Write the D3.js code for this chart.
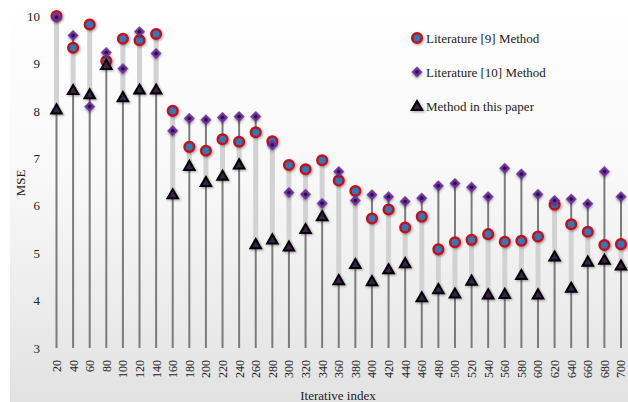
<!DOCTYPE html>
<html>
<head>
<meta charset="utf-8">
<script src="https://cdn.jsdelivr.net/npm/d3@7"></script>
<style>
  body { margin: 0; background: #fff; }
  svg text { font-family: "Liberation Serif", "Times New Roman", "DejaVu Serif", serif; }
</style>
</head>
<body>
<div id="chart"></div>
<script>
// iteration index on x
const iterations = [20, 40, 60, 80, 100, 120, 140, 160, 180, 200, 220, 240, 260, 280, 300, 320, 340,
  360, 380, 400, 420, 440, 460, 480, 500, 520, 540, 560, 580, 600, 620, 640, 660, 680, 700];

// Literature [9] Method
const lit9 = [10.0, 9.33, 9.82, 9.05, 9.52, 9.49, 9.62, 8.0, 7.24, 7.16, 7.40, 7.35, 7.55, 7.36, 6.86, 6.77, 6.96,
  6.53, 6.31, 5.73, 5.92, 5.54, 5.77, 5.08, 5.23, 5.28, 5.40, 5.24, 5.26, 5.35, 6.02, 5.61, 5.45, 5.17, 5.19];

// Literature [10] Method
const lit10 = [9.97, 9.59, 8.09, 9.23, 8.89, 9.67, 9.21, 7.58, 7.84, 7.81, 7.86, 7.88, 7.88, 7.28, 6.28, 6.24, 6.05,
  6.72, 6.11, 6.23, 6.19, 6.09, 6.16, 6.42, 6.47, 6.39, 6.19, 6.79, 6.67, 6.24, 6.11, 6.14, 6.04, 6.72, 6.19];

// Method in this paper
const ours = [8.03, 8.44, 8.35, 8.97, 8.29, 8.45, 8.45, 6.24, 6.84, 6.50, 6.63, 6.87, 5.19, 5.29, 5.14, 5.51, 5.78,
  4.43, 4.77, 4.41, 4.66, 4.79, 4.07, 4.24, 4.15, 4.42, 4.13, 4.14, 4.54, 4.13, 4.93, 4.27, 4.82, 4.86, 4.74];

const yTicks = [3, 4, 5, 6, 7, 8, 9, 10];
const legendNames = ["Literature [9] Method", "Literature [10] Method", "Method in this paper"];

const width = 628, height = 402;
const serif = "'Liberation Serif', 'Times New Roman', 'DejaVu Serif', serif";

const svg = d3.select("#chart").append("svg")
  .attr("width", width)
  .attr("height", height)
  .style("font-family", serif);

const defs = svg.append("defs");
const bg = defs.append("linearGradient").attr("id", "bg")
  .attr("x1", 0).attr("y1", 0).attr("x2", 0).attr("y2", 1);
bg.append("stop").attr("offset", "0%").attr("stop-color", "#ffffff");
bg.append("stop").attr("offset", "45%").attr("stop-color", "#f8f8f8");
bg.append("stop").attr("offset", "100%").attr("stop-color", "#e2e2e2");

const shadow = defs.append("filter").attr("id", "shadow")
  .attr("x", "-50%").attr("y", "-50%").attr("width", "200%").attr("height", "200%");
shadow.append("feDropShadow")
  .attr("dx", 1.2).attr("dy", 1.2).attr("stdDeviation", 1)
  .attr("flood-color", "#000").attr("flood-opacity", 0.35);

svg.append("rect")
  .attr("x", 10).attr("y", 0)
  .attr("width", width - 10).attr("height", height)
  .attr("fill", "url(#bg)");

const x = d3.scalePoint().domain(iterations).range([56.5, 621]);
const y = d3.scaleLinear().domain([3, 10]).range([348, 16]);

const rows = iterations.map((it, i) => ({ it, a: lit9[i], b: lit10[i], c: ours[i] }));

// drop lines to the axis
svg.append("g").selectAll("line")
  .data(rows)
  .join("line")
  .attr("x1", d => x(d.it)).attr("x2", d => x(d.it))
  .attr("y1", y(3))
  .attr("y2", d => y(Math.max(d.a, d.b, d.c)))
  .attr("stroke", "#7b7b7b")
  .attr("stroke-width", 2);

// high-low band between literature [9] and this paper
svg.append("g").selectAll("line")
  .data(rows)
  .join("line")
  .attr("x1", d => x(d.it)).attr("x2", d => x(d.it))
  .attr("y1", d => y(d.a))
  .attr("y2", d => y(d.c))
  .attr("stroke", "#d2d2d2")
  .attr("stroke-width", 5);

// y axis labels
const yAxis = svg.append("g")
  .attr("transform", "translate(44,0)")
  .call(d3.axisLeft(y).tickValues(yTicks).tickSize(0).tickPadding(4).tickFormat(d3.format("d")));
yAxis.select(".domain").remove();
yAxis.attr("font-family", null);
yAxis.selectAll("text")
  .style("font-family", serif)
  .attr("font-size", 13)
  .attr("fill", "#222");

// x axis labels
const xAxis = svg.append("g")
  .attr("transform", `translate(0,${y(3)})`)
  .call(d3.axisBottom(x).tickSize(0).tickPadding(0));
xAxis.select(".domain").remove();
xAxis.attr("font-family", null);
xAxis.selectAll("text")
  .style("font-family", serif)
  .attr("font-size", 12)
  .attr("fill", "#222")
  .attr("text-anchor", "end")
  .attr("transform", "translate(0,12) rotate(-90)")
  .attr("x", 0).attr("y", 0)
  .attr("dy", "0.33em");

svg.append("text")
  .attr("x", 338).attr("y", 400)
  .attr("text-anchor", "middle")
  .attr("font-size", 13)
  .attr("fill", "#222")
  .text("Iterative index");

svg.append("text")
  .attr("transform", "translate(25,183) rotate(-90)")
  .attr("text-anchor", "middle")
  .attr("font-size", 13)
  .attr("fill", "#222")
  .text("MSE");

// marker helpers
const square = d3.symbol().type(d3.symbolSquare).size(60);
const triangle = d3.symbol().type(d3.symbolTriangle).size(48);

function drawCircle(g, cx, cy) {
  g.append("circle").attr("cx", cx).attr("cy", cy).attr("r", 4.8)
    .attr("fill", "#2e7ab8").attr("stroke", "#c8101a").attr("stroke-width", 2.5)
    .attr("filter", "url(#shadow)");
}
function drawDiamond(g, cx, cy) {
  g.append("path").attr("d", square()).attr("transform", `translate(${cx},${cy}) rotate(45)`)
    .attr("fill", "#6a2d9e").attr("filter", "url(#shadow)");
  g.append("circle").attr("cx", cx).attr("cy", cy).attr("r", 1.8).attr("fill", "#2b0f40");
}
function drawTriangle(g, cx, cy) {
  g.append("path").attr("d", triangle()).attr("transform", `translate(${cx},${cy + 1})`)
    .attr("fill", "#3a2048").attr("stroke", "#000").attr("stroke-width", 2)
    .attr("stroke-linejoin", "miter")
    .attr("filter", "url(#shadow)");
}

const marks = svg.append("g");
rows.forEach(d => drawCircle(marks, x(d.it), y(d.a)));
rows.forEach(d => drawDiamond(marks, x(d.it), y(d.b)));
rows.forEach(d => drawTriangle(marks, x(d.it), y(d.c)));

// legend
const legend = svg.append("g");
const legendY = [38, 72, 106];
drawCircle(legend, 417, legendY[0]);
drawDiamond(legend, 417, legendY[1]);
drawTriangle(legend, 417, legendY[2]);
legend.selectAll("text")
  .data(legendNames)
  .join("text")
  .attr("x", 426)
  .attr("y", (d, i) => legendY[i])
  .attr("dy", "0.35em")
  .attr("font-size", 13)
  .attr("fill", "#222")
  .text(d => d);
</script>
</body>
</html>
